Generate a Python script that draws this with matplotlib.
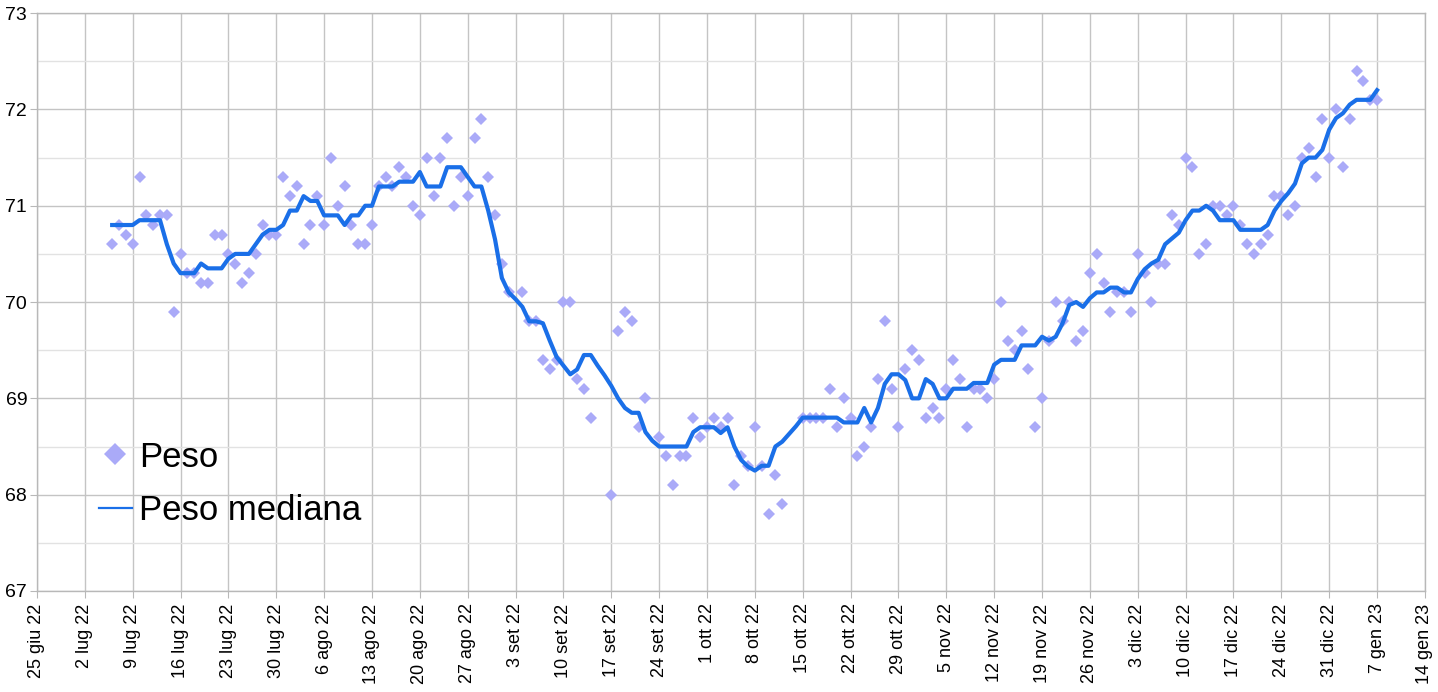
import numpy as np
import pandas as pd
import matplotlib
matplotlib.use("Agg")
import matplotlib.pyplot as plt
from matplotlib.ticker import FixedLocator, FuncFormatter, MultipleLocator
import matplotlib.dates as mdates

plt.rcParams['font.family'] = ['Liberation Sans', 'DejaVu Sans']

nan = np.nan
start = "2022-07-06"

# daily weight readings from 6 Jul 22 (nan = no reading that day)
peso = [
    # lug (6-31)
    70.6, 70.8, 70.7, 70.6, 71.3, 70.9, 70.8, 70.9, 70.9, 69.9,
    70.5, 70.3, 70.3, 70.2, 70.2, 70.7, 70.7, 70.5, 70.4, 70.2,
    70.3, 70.5, 70.8, 70.7, 70.7, 71.3,
    # ago
    71.1, 71.2, 70.6, 70.8, 71.1, 70.8, 71.5, 71.0, 71.2, 70.8,
    70.6, 70.6, 70.8, 71.2, 71.3, 71.2, 71.4, 71.3, 71.0, 70.9,
    71.5, 71.1, 71.5, 71.7, 71.0, 71.3, 71.1, 71.7, 71.9, 71.3,
    70.9,
    # set
    70.4, 70.1, nan, 70.1, 69.8, 69.8, 69.4, 69.3, 69.4, 70.0,
    70.0, 69.2, 69.1, 68.8, nan, nan, 68.0, 69.7, 69.9, 69.8,
    68.7, 69.0, nan, 68.6, 68.4, 68.1, 68.4, 68.4, 68.8, 68.6,
    # ott
    68.7, 68.8, 68.7, 68.8, 68.1, 68.4, 68.3, 68.7, 68.3, 67.8,
    68.2, 67.9, nan, nan, 68.8, 68.8, 68.8, 68.8, 69.1, 68.7,
    69.0, 68.8, 68.4, 68.5, 68.7, 69.2, 69.8, 69.1, 68.7, 69.3,
    69.5,
    # nov
    69.4, 68.8, 68.9, 68.8, 69.1, 69.4, 69.2, 68.7, 69.1, 69.1,
    69.0, 69.2, 70.0, 69.6, 69.5, 69.7, 69.3, 68.7, 69.0, 69.6,
    70.0, 69.8, 70.0, 69.6, 69.7, 70.3, 70.5, 70.2, 69.9, 70.1,
    # dic
    70.1, 69.9, 70.5, 70.3, 70.0, 70.4, 70.4, 70.9, 70.8, 71.5,
    71.4, 70.5, 70.6, 71.0, 71.0, 70.9, 71.0, 70.8, 70.6, 70.5,
    70.6, 70.7, 71.1, 71.1, 70.9, 71.0, 71.5, 71.6, 71.3, 71.9,
    71.5,
    # gen (1-7)
    72.0, 71.4, 71.9, 72.4, 72.3, 72.1, 72.1,
]

peso_mediana = [
    # lug (6-31)
    70.8, 70.8, 70.8, 70.8, 70.85, 70.85, 70.85, 70.85, 70.6, 70.4,
    70.3, 70.3, 70.3, 70.4, 70.35, 70.35, 70.35, 70.45, 70.5, 70.5,
    70.5, 70.6, 70.7, 70.75, 70.75, 70.8,
    # ago
    70.95, 70.95, 71.1, 71.05, 71.05, 70.9, 70.9, 70.9, 70.8, 70.9,
    70.9, 71.0, 71.0, 71.2, 71.2, 71.2, 71.25, 71.25, 71.25, 71.35,
    71.2, 71.2, 71.2, 71.4, 71.4, 71.4, 71.3, 71.2, 71.2, 70.95,
    70.65,
    # set
    70.25, 70.1, 70.03, 69.95, 69.8, 69.8, 69.78, 69.6, 69.43, 69.34,
    69.25, 69.3, 69.45, 69.45, 69.34, 69.24, 69.13, 69.0, 68.9, 68.85,
    68.85, 68.65, 68.56, 68.5, 68.5, 68.5, 68.5, 68.5, 68.65, 68.7,
    # ott
    68.7, 68.7, 68.64, 68.7, 68.5, 68.36, 68.29, 68.25, 68.3, 68.3,
    68.5, 68.55, 68.63, 68.71, 68.8, 68.8, 68.8, 68.8, 68.8, 68.8,
    68.75, 68.75, 68.75, 68.9, 68.75, 68.9, 69.15, 69.25, 69.25, 69.19,
    69.0,
    # nov
    69.0, 69.2, 69.15, 69.0, 69.0, 69.1, 69.1, 69.1, 69.16, 69.16,
    69.16, 69.35, 69.4, 69.4, 69.4, 69.55, 69.55, 69.55, 69.64, 69.6,
    69.64, 69.78, 69.97, 70.0, 69.95, 70.04, 70.1, 70.1, 70.15, 70.15,
    # dic
    70.1, 70.1, 70.24, 70.34, 70.4, 70.44, 70.6, 70.66, 70.72, 70.85,
    70.95, 70.95, 71.0, 70.95, 70.85, 70.85, 70.85, 70.75, 70.75, 70.75,
    70.75, 70.8, 70.95, 71.05, 71.13, 71.23, 71.44, 71.5, 71.5, 71.58,
    71.79,
    # gen (1-7)
    71.91, 71.96, 72.05, 72.1, 72.1, 72.1, 72.2,
]

mesi = ["gen", "feb", "mar", "apr", "mag", "giu",
        "lug", "ago", "set", "ott", "nov", "dic"]

giorni = pd.date_range(start, periods=len(peso), freq="D")
settimane = pd.date_range("2022-06-25", "2023-01-14", freq="7D")

fig = plt.figure(figsize=(14.38, 6.92), dpi=100)
ax = fig.add_axes([0.0257, 0.146, 0.9652, 0.835])

ax.plot(giorni, peso, linestyle="none", marker="D", markersize=6.5,
        color="#aaaaf8", markeredgewidth=0, label="Peso", zorder=3)
ax.plot(giorni, peso_mediana, color="#1a6fe8", linewidth=3,
        label="Peso mediana", zorder=4)

ax.set_xlim(settimane[0], settimane[-1])
ax.set_ylim(67, 73)

ax.xaxis.set_major_locator(FixedLocator(mdates.date2num(settimane)))


def fmt_data(x, pos):
    d = mdates.num2date(x)
    return "%d %s %02d" % (d.day, mesi[d.month - 1], d.year % 100)


ax.xaxis.set_major_formatter(FuncFormatter(fmt_data))
ax.yaxis.set_major_locator(MultipleLocator(1))
ax.yaxis.set_minor_locator(MultipleLocator(0.5))

plt.setp(ax.get_xticklabels(), rotation=90, fontsize=13)
plt.setp(ax.get_yticklabels(), fontsize=14)
ax.tick_params(axis="x", length=5, color="#b8b8b8", pad=4)
ax.tick_params(axis="y", which="major", length=5, color="#b8b8b8", pad=2)
ax.tick_params(axis="y", which="minor", length=0)

ax.grid(True, which="major", color="#c4c4c4", linewidth=1)
ax.grid(True, which="minor", axis="y", color="#e2e2e2", linewidth=1)
ax.set_axisbelow(True)
for s in ax.spines.values():
    s.set_color("#b8b8b8")
    s.set_linewidth(1)

leg = ax.legend(loc="lower left", bbox_to_anchor=(0.022, 0.056), frameon=False,
                fontsize=25, markerscale=1.7, handlelength=0.95,
                handletextpad=0.2, labelspacing=0.6)
leg.legend_handles[1].set_linewidth(1.6)

fig.savefig("out.png", dpi=100)
